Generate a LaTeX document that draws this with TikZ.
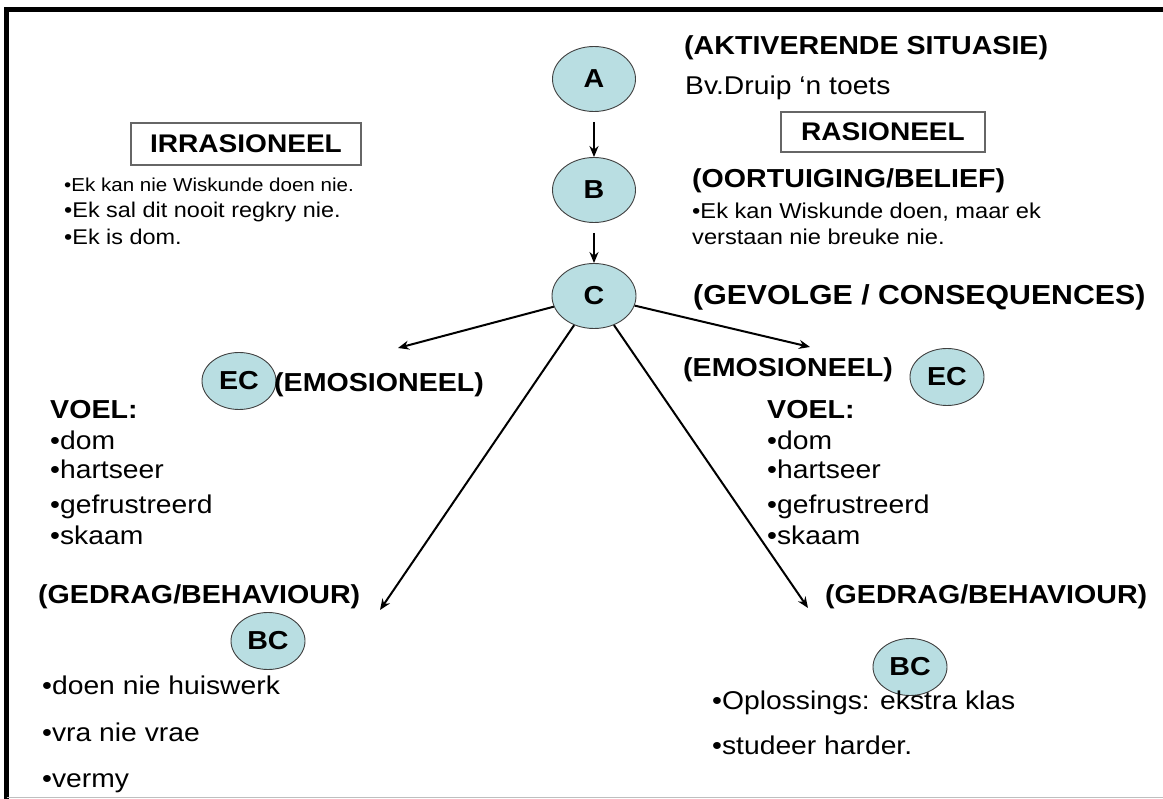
\documentclass[tikz,border=0pt]{standalone}
\usepackage{fontspec}
\setmainfont{Liberation Sans}[FakeStretch=1.1]
\usetikzlibrary{shapes.geometric,arrows.meta}
\definecolor{bubble}{RGB}{185,222,226}
\newcommand\headfont{\fontsize{26}{30}\selectfont\bfseries}
\newcommand\listfont{\fontsize{25.7}{29}\selectfont}

\begin{document}
\begin{tikzpicture}
[x=1pt,y=-1pt,
 bub/.style={ellipse,draw=black!75,fill=bubble,line width=.9pt,inner sep=0pt,minimum width=74pt,minimum height=57pt,font=\fontsize{26}{26}\selectfont\bfseries},
 hd/.style={anchor=base west,inner sep=0pt,font=\headfont},
 li/.style={anchor=base west,inner sep=0pt,font=\listfont},
 tag/.style={draw=black!60,line width=1.2pt,inner sep=0pt,font=\fontsize{25.5}{25}\selectfont\bfseries},
 arr/.style={-{Stealth[length=11pt,width=9pt]},line width=2pt}]
\useasboundingbox (0,0) rectangle (1163,799);
\draw[line width=4.5pt] (6.5,799) -- (6.5,9.5) -- (1163,9.5);
\draw[black!25,line width=1.5pt] (6.5,797.5) -- (1163,797.5);

\node[bub,minimum width=83pt,minimum height=65pt] (nA) at (594,79) {A};
\node[bub,minimum width=83pt,minimum height=65pt] (nB) at (594,190) {B};
\node[bub,minimum width=84pt,minimum height=65pt] (nC) at (594,296) {C};
\node[bub] (ecL) at (239,381) {EC};
\node[bub] (ecR) at (947,377) {EC};
\node[bub] (bcL) at (268,641) {BC};
\node[bub] (bcR) at (910,667) {BC};

\coordinate (eL) at (398,348);
\coordinate (eR) at (810,347);
\coordinate (gL) at (380,610);
\coordinate (gR) at (808,608);

\node[hd] (t1) at (684,55) {(AKTIVERENDE SITUASIE)};
\node[li] (t2) at (685,95) {Bv.Druip ‘n toets};
\node[tag,minimum width=204pt,minimum height=40pt] (rat) at (883,132) {RASIONEEL};
\node[tag,minimum width=230pt,minimum height=42pt] (irr) at (246,144) {IRRASIONEEL};
\node[li,font=\fontsize{18.7}{22}\selectfont] (i1) at (64,192) {•Ek kan nie Wiskunde doen nie.};
\node[li,font=\fontsize{21.3}{24}\selectfont] (i2) at (64,218) {•Ek sal dit nooit regkry nie.};
\node[li,font=\fontsize{21.3}{24}\selectfont] (i3) at (64,245) {•Ek is dom.};
\node[hd] (t3) at (692,188) {(OORTUIGING/BELIEF)};
\node[li,font=\fontsize{21.5}{24}\selectfont] (r1) at (692,219) {•Ek kan Wiskunde doen, maar ek};
\node[li,font=\fontsize{21.5}{24}\selectfont] (r2) at (692,245) {verstaan nie breuke nie.};
\node[hd,font=\fontsize{27.5}{30}\selectfont\bfseries] (t4) at (693,305) {(GEVOLGE / CONSEQUENCES)};

\node[hd] (emL) at (274,392) {(EMOSIONEEL)};
\node[hd] (emR) at (683,377) {(EMOSIONEEL)};
\node[hd] (vL) at (50,419) {VOEL:};
\node[li] (aL) at (50,450) {•dom};
\node[li] (bL) at (50,479) {•hartseer};
\node[li] (cL) at (50,514) {•gefrustreerd};
\node[li] (dL) at (50,544) {•skaam};
\node[hd] (vR) at (767,419) {VOEL:};
\node[li] (aR) at (767,450) {•dom};
\node[li] (bR) at (767,479) {•hartseer};
\node[li] (cR) at (767,514) {•gefrustreerd};
\node[li] (dR) at (767,544) {•skaam};

\node[hd] (gdL) at (38,603) {(GEDRAG/BEHAVIOUR)};
\node[hd] (gdR) at (825,603) {(GEDRAG/BEHAVIOUR)};
\node[li] (hL) at (42,694) {•doen nie huiswerk};
\node[li] (jL) at (42,741) {•vra nie vrae};
\node[li] (kL) at (42,787) {•vermy};
\node[li] (hR) at (712,709) {•Oplossings: ekstra klas};
\node[li] (jR) at (712,754) {•studeer harder.};

\foreach \from/\to in {nA/nB,nB/nC}
\draw[arr,shorten <=10pt] (\from) -- (\to);
\foreach \to in {eL,eR,gL,gR}
\draw[arr] (nC) -- (\to);
\end{tikzpicture}
\end{document}
